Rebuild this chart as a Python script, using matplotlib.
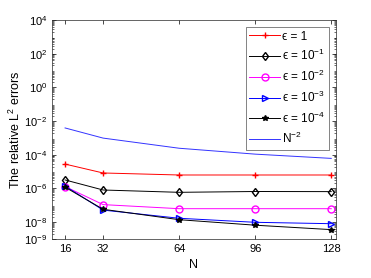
import matplotlib
matplotlib.use("Agg")
import matplotlib.pyplot as plt
import numpy as np

plt.rcParams['font.family'] = ['Liberation Sans', 'DejaVu Sans']
plt.rcParams['mathtext.fontset'] = 'custom'
plt.rcParams['mathtext.rm'] = 'Liberation Sans'
plt.rcParams['mathtext.it'] = 'Liberation Sans:italic'
plt.rcParams['mathtext.default'] = 'regular'

N = [16, 32, 64, 96, 128]
err_e0 = [2.8e-5, 8.3e-6, 6.3e-6, 6.3e-6, 6.3e-6]
err_e1 = [3.2e-6, 8.1e-7, 5.9e-7, 6.6e-7, 6.5e-7]
err_e2 = [1.3e-6, 1.1e-7, 6.3e-8, 6.3e-8, 6.3e-8]
err_e3 = [1.4e-6, 5.2e-8, 1.7e-8, 9.8e-9, 8.1e-9]
err_e4 = [1.2e-6, 5.8e-8, 1.4e-8, 6.6e-9, 3.6e-9]
ref_N2 = [3.91e-3, 9.77e-4, 2.44e-4, 1.09e-4, 6.10e-5]

labels = ['\u03f5 = 1', '\u03f5 = 10$^{-1}$', '\u03f5 = 10$^{-2}$',
          '\u03f5 = 10$^{-3}$', '\u03f5 = 10$^{-4}$', 'N$^{-2}$']
yticks = [1e4, 1e2, 1e0, 1e-2, 1e-4, 1e-6, 1e-8, 1e-9]
ytick_labels = ['10$^{4}$', '10$^{2}$', '10$^{0}$', '10$^{-2}$', '10$^{-4}$',
                '10$^{-6}$', '10$^{-8}$', '10$^{-9}$']

fig = plt.figure(figsize=(3.71, 2.78), dpi=100)
ax = fig.add_axes([52/371, 1-239/278, (336-52)/371, (239-20)/278])

lw = 0.7
ms = 5
ax.plot(N, err_e0, color='red', marker='+', lw=lw, ms=ms, label=labels[0])
ax.plot(N, err_e1, color='black', marker='d', mfc='none', lw=lw, ms=ms-0.5, label=labels[1])
ax.plot(N, err_e2, color='magenta', marker='o', mfc='none', lw=lw, ms=ms, label=labels[2])
ax.plot(N, err_e3, color='blue', marker='>', mfc='none', lw=lw, ms=ms, label=labels[3])
ax.plot(N, err_e4, color='black', marker='*', lw=lw, ms=ms-1, label=labels[4])
ax.plot(N, ref_N2, color='#3333ff', lw=lw, label=labels[5])

ax.set_yscale('log')
ax.set_xlim(10.5, 130)
ax.set_ylim(1e-9, 1e4)
ax.set_xticks(N)
ax.set_xticklabels([str(n) for n in N])
ax.set_yticks(yticks)
ax.set_yticklabels(ytick_labels)
ax.yaxis.set_minor_locator(matplotlib.ticker.LogLocator(base=10, subs=np.arange(2, 10), numticks=30))
ax.yaxis.set_minor_formatter(matplotlib.ticker.NullFormatter())
ax.tick_params(which='both', direction='in', top=True, right=True, labelsize=8)
ax.tick_params(which='major', length=3, width=0.5)
ax.tick_params(which='minor', length=1.5, width=0.4)
for s in ax.spines.values():
    s.set_linewidth(0.5)
    s.set_color('#262626')

ax.set_xlabel('N', fontsize=9, labelpad=4)
ax.set_ylabel('The relative L$^{2}$ errors', fontsize=9, labelpad=1)

leg = ax.legend(loc='upper right', fontsize=8.5, frameon=True, fancybox=False,
                edgecolor='#262626', handlelength=2.6, labelspacing=0.47,
                handletextpad=0.2, borderpad=0.3, borderaxespad=0.6)
leg.get_frame().set_linewidth(0.5)

fig.savefig('out.png', dpi=100)
